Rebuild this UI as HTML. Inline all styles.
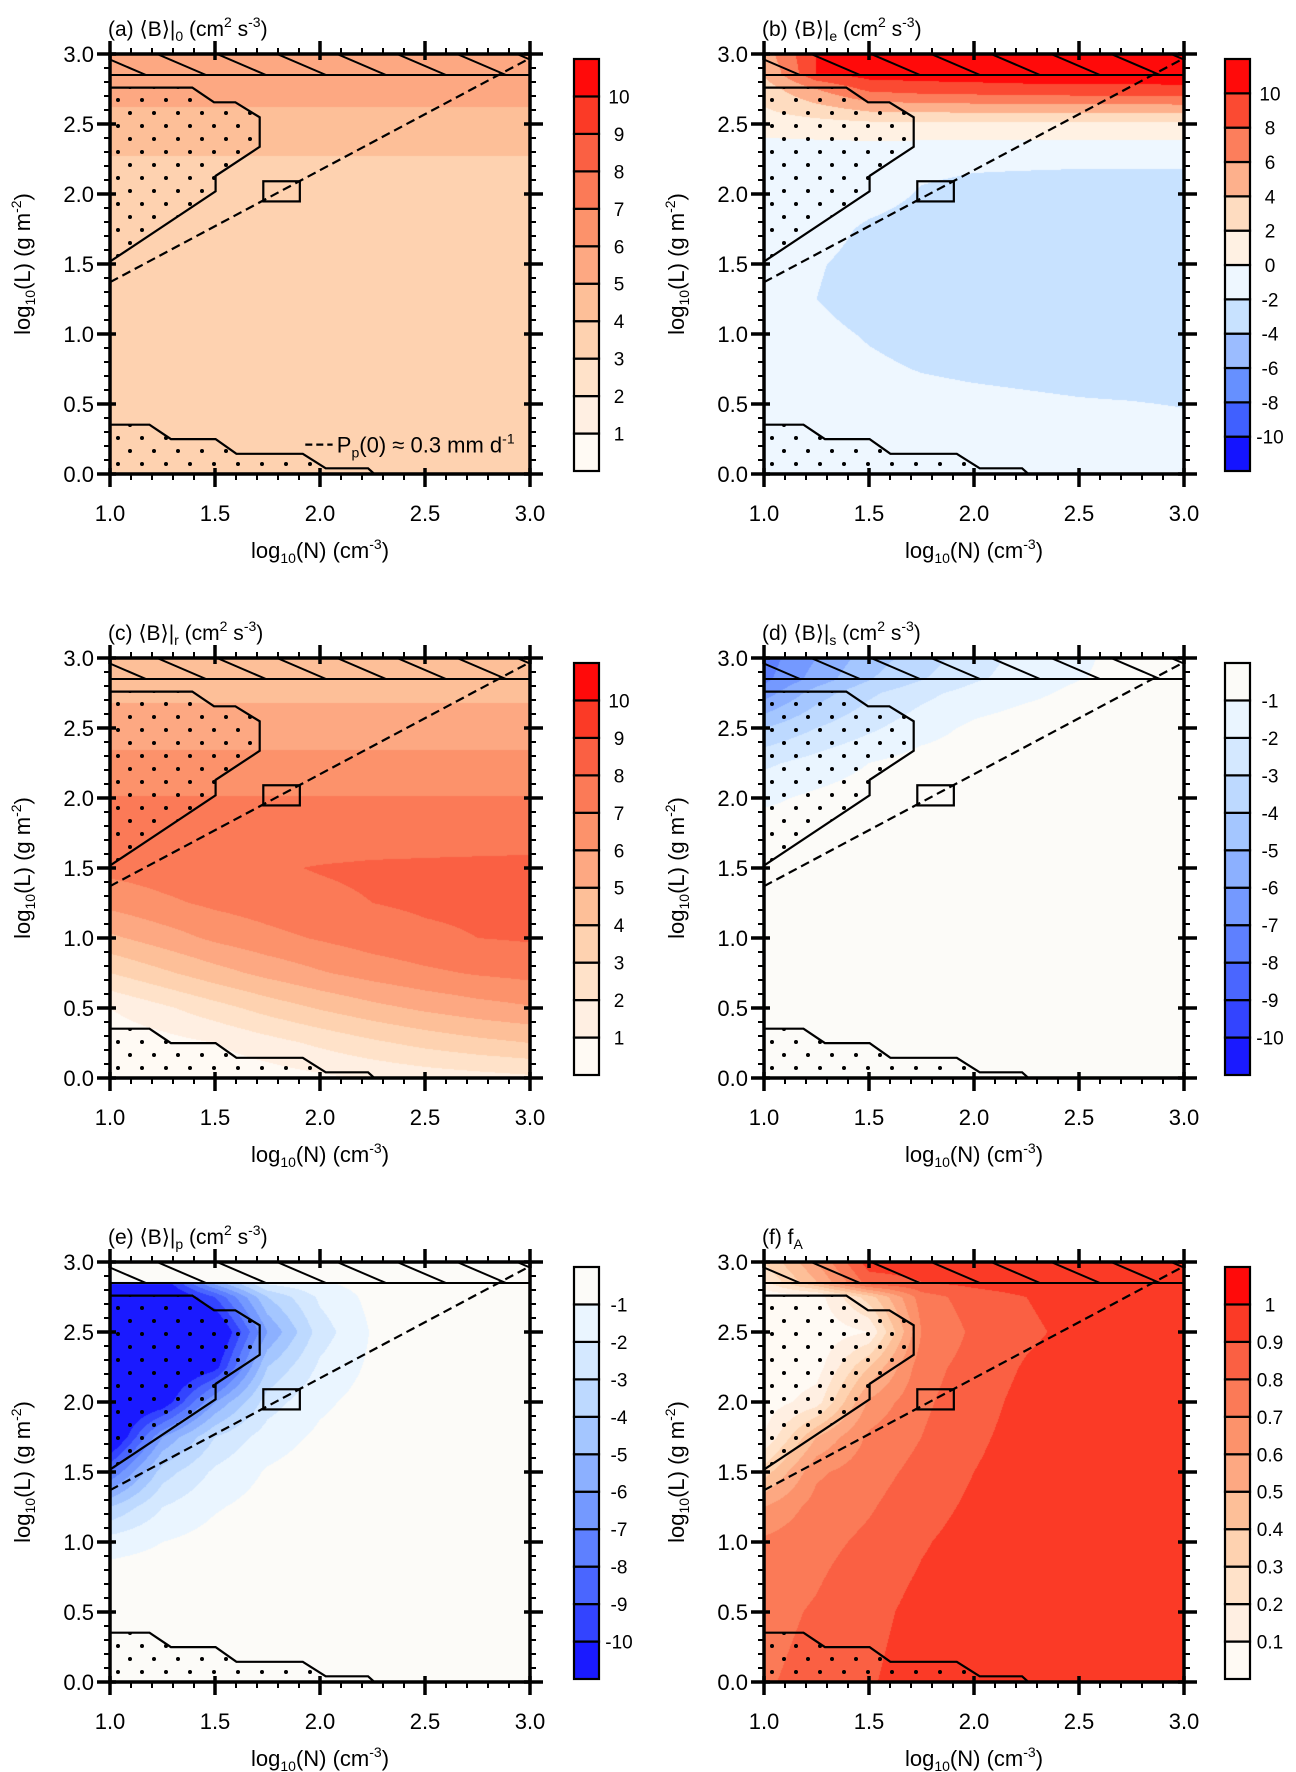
<!DOCTYPE html>
<html><head><meta charset="utf-8"><style>
html,body{margin:0;padding:0;background:#fff;}
#wrap{position:relative;width:1296px;height:1772px;overflow:hidden;}
canvas,svg{position:absolute;left:0;top:0;}
svg text{font-family:"Liberation Sans","DejaVu Sans",sans-serif;fill:#000;}
</style></head><body>
<div id="wrap">
<canvas id="cv" width="1296" height="1772"></canvas>
<svg id="sv" width="1296" height="1772" xmlns="http://www.w3.org/2000/svg"></svg>
</div>
<script>
const xNodes = [1.0,1.25,1.5,1.75,2.0,2.25,2.5,2.75,3.0];
const yNodes = [0,0.25,0.5,0.75,1.0,1.25,1.5,1.75,2.0,2.25,2.5,2.75,2.84,2.86,3.0];
const xTickLabels = ["1.0","1.5","2.0","2.5","3.0"];
const yTickLabels = ["0.0","0.5","1.0","1.5","2.0","2.5","3.0"];

const redColors = ["#fffaf4","#ffefe2","#ffe2c9","#fed2b0","#fdbf98","#fda882","#fc926b","#fb7a57","#fa6043","#fb3a26","#ff0a0a"];
const divColors = ["#1414ff","#4060ff","#6690ff","#9bbcff","#c8e2ff","#eef7ff","#fff1e3","#fedcc0","#fdb08c","#fc7e5c","#fb4a32","#ff0a0a"];
const blueColors = ["#1a1aff","#3344ff","#4a66ff","#5e80ff","#7499ff","#8cb0ff","#a4c6ff","#bdd9ff","#d4e8ff","#eaf5ff","#fcfbf8"];
const redBounds = [1,2,3,4,5,6,7,8,9,10];
const divBounds = [-10,-8,-6,-4,-2,0,2,4,6,8,10];
const blueBounds = [-10,-9,-8,-7,-6,-5,-4,-3,-2,-1];
const fBounds = [0.1,0.2,0.3,0.4,0.5,0.6,0.7,0.8,0.9,1.0];
const redLabels = ["1","2","3","4","5","6","7","8","9","10"];
const divLabels = ["-10","-8","-6","-4","-2","0","2","4","6","8","10"];
const blueLabels = ["-10","-9","-8","-7","-6","-5","-4","-3","-2","-1"];
const fLabels = ["0.1","0.2","0.3","0.4","0.5","0.6","0.7","0.8","0.9","1"];

const aValues = [
[3.5,3.5,3.5,3.5,3.5,3.5,3.5,3.5,3.5],
[3.5,3.5,3.5,3.5,3.5,3.5,3.5,3.5,3.5],
[3.5,3.5,3.5,3.5,3.5,3.5,3.5,3.5,3.5],
[3.5,3.5,3.5,3.5,3.5,3.5,3.5,3.5,3.5],
[3.5,3.5,3.5,3.5,3.5,3.5,3.5,3.5,3.5],
[3.5,3.5,3.5,3.5,3.5,3.5,3.5,3.5,3.5],
[3.5,3.5,3.5,3.5,3.5,3.5,3.5,3.5,3.5],
[3.5,3.5,3.5,3.5,3.5,3.5,3.5,3.5,3.5],
[3.5,3.5,3.5,3.5,3.5,3.5,3.5,3.5,3.5],
[3.95,3.95,3.95,3.95,3.95,3.95,3.95,3.95,3.95],
[4.6,4.6,4.6,4.6,4.6,4.6,4.6,4.6,4.6],
[5.4,5.4,5.4,5.4,5.4,5.4,5.4,5.4,5.4],
[5.5,5.5,5.5,5.5,5.5,5.5,5.5,5.5,5.5],
[5.5,5.5,5.5,5.5,5.5,5.5,5.5,5.5,5.5],
[5.6,5.6,5.6,5.6,5.6,5.6,5.6,5.6,5.6]];
const bValues = [
[-1,-1,-1,-1,-1,-1,-1,-1,-1],
[-1,-1,-1.1,-1.2,-1.3,-1.4,-1.5,-1.5,-1.6],
[-1,-1.2,-1.4,-1.6,-1.7,-1.8,-1.9,-1.95,-2.05],
[-1,-1.4,-1.8,-2.05,-2.2,-2.3,-2.4,-2.5,-2.6],
[-1,-1.7,-2.1,-2.4,-2.6,-2.6,-2.7,-2.7,-2.7],
[-1,-2.0,-2.5,-2.7,-2.8,-2.8,-2.8,-2.8,-2.8],
[-1,-1.9,-2.4,-2.7,-2.8,-2.8,-2.8,-2.8,-2.8],
[-1,-1.5,-2.2,-2.5,-2.6,-2.6,-2.6,-2.6,-2.6],
[-1,-1,-1.5,-2.1,-2.3,-2.4,-2.5,-2.5,-2.5],
[-1.5,-1.5,-1.6,-1.7,-1.8,-1.8,-1.8,-1.8,-1.8],
[1,1.2,1.5,1.5,1.5,1.5,1.5,1.5,1.5],
[3,6,8.5,9,9.2,9.4,9.5,9.5,9.6],
[4,9,10.5,10.6,10.7,10.8,10.8,10.8,10.8],
[4,10,11,11,11,11,11,11,11],
[5,10,11,11,11,11,11,11,11]];
const cValues = [
[0.1,0.2,0.3,0.5,0.8,1.1,1.4,1.6,1.8],
[0.3,0.6,1.0,1.6,2.2,2.8,3.3,3.7,4.0],
[1.0,1.8,2.6,3.4,4.1,4.7,5.2,5.6,5.9],
[3.0,3.8,4.6,5.3,5.9,6.4,6.8,7.1,7.3],
[4.8,5.5,6.2,6.7,7.1,7.5,7.8,8.0,8.1],
[6.3,6.8,7.2,7.5,7.8,8.0,8.15,8.2,8.3],
[7.3,7.5,7.7,7.9,8.05,8.15,8.2,8.25,8.3],
[7.5,7.5,7.5,7.5,7.5,7.5,7.5,7.5,7.5],
[7.05,7.05,7.05,7.05,7.05,7.05,7.05,7.05,7.05],
[6.3,6.3,6.3,6.3,6.3,6.3,6.3,6.3,6.3],
[5.5,5.5,5.5,5.5,5.5,5.5,5.5,5.5,5.5],
[4.8,4.8,4.8,4.8,4.8,4.8,4.8,4.8,4.8],
[4.7,4.7,4.7,4.7,4.7,4.7,4.7,4.7,4.7],
[4.7,4.7,4.7,4.7,4.7,4.7,4.7,4.7,4.7],
[4.7,4.7,4.7,4.7,4.7,4.7,4.7,4.7,4.7]];
const dValues = [
[-0.5,-0.5,-0.5,-0.5,-0.5,-0.5,-0.5,-0.5,-0.5],
[-0.5,-0.5,-0.5,-0.5,-0.5,-0.5,-0.5,-0.5,-0.5],
[-0.5,-0.5,-0.5,-0.5,-0.5,-0.5,-0.5,-0.5,-0.5],
[-0.5,-0.5,-0.5,-0.5,-0.5,-0.5,-0.5,-0.5,-0.5],
[-0.5,-0.5,-0.5,-0.5,-0.5,-0.5,-0.5,-0.5,-0.5],
[-0.5,-0.5,-0.5,-0.5,-0.5,-0.5,-0.5,-0.5,-0.5],
[-0.5,-0.5,-0.5,-0.5,-0.5,-0.5,-0.5,-0.5,-0.5],
[-0.5,-0.5,-0.5,-0.5,-0.5,-0.5,-0.5,-0.5,-0.5],
[-1.2,-0.8,-0.5,-0.5,-0.5,-0.5,-0.5,-0.5,-0.5],
[-2.2,-1.6,-1.0,-0.6,-0.5,-0.5,-0.5,-0.5,-0.5],
[-4,-3,-2.2,-1.4,-0.8,-0.5,-0.5,-0.5,-0.5],
[-6.5,-4.5,-3.2,-2.3,-1.6,-1.2,-0.8,-0.5,-0.4],
[-7.2,-5.5,-4,-3,-2.1,-1.4,-1,-0.7,-0.5],
[-7.3,-5.6,-4.1,-3.1,-2.2,-1.5,-1.05,-0.75,-0.5],
[-7.5,-6,-4.5,-3.5,-2.5,-1.6,-1.1,-0.8,-0.5]];
const eValues = [
[-0.5,-0.5,-0.5,-0.5,-0.5,-0.5,-0.5,-0.5,-0.5],
[-0.5,-0.5,-0.5,-0.5,-0.5,-0.5,-0.5,-0.5,-0.5],
[-0.5,-0.5,-0.5,-0.5,-0.5,-0.5,-0.5,-0.5,-0.5],
[-0.5,-0.5,-0.5,-0.5,-0.5,-0.5,-0.5,-0.5,-0.5],
[-1.5,-1,-0.6,-0.5,-0.5,-0.5,-0.5,-0.5,-0.5],
[-4,-2,-1.1,-0.6,-0.5,-0.5,-0.5,-0.5,-0.5],
[-8,-3.5,-1.8,-0.9,-0.5,-0.5,-0.5,-0.5,-0.5],
[-12,-6,-3,-1.5,-0.8,-0.5,-0.5,-0.5,-0.5],
[-12,-11,-6,-2.5,-1.2,-0.6,-0.5,-0.5,-0.5],
[-12,-12,-10.5,-4,-1.8,-0.8,-0.5,-0.5,-0.5],
[-12,-12,-12,-6,-2.5,-0.9,-0.5,-0.5,-0.5],
[-12,-12,-9,-4,-1.8,-0.7,-0.5,-0.5,-0.5],
[-12,-11,-6,-2,-1.2,-0.6,-0.5,-0.5,-0.5],
[-0.5,-0.5,-0.5,-0.5,-0.5,-0.5,-0.5,-0.5,-0.5],
[-0.5,-0.5,-0.5,-0.5,-0.5,-0.5,-0.5,-0.5,-0.5]];
const fValues = [
[0.79,0.83,0.89,0.95,0.95,0.95,0.95,0.95,0.95],
[0.78,0.82,0.88,0.94,0.95,0.95,0.95,0.95,0.95],
[0.77,0.81,0.87,0.93,0.95,0.95,0.95,0.95,0.95],
[0.75,0.79,0.85,0.91,0.95,0.95,0.95,0.95,0.95],
[0.72,0.77,0.82,0.89,0.94,0.95,0.95,0.95,0.95],
[0.6,0.74,0.79,0.86,0.92,0.95,0.95,0.95,0.95],
[0.35,0.68,0.76,0.83,0.9,0.95,0.95,0.95,0.95],
[0.1,0.5,0.72,0.8,0.88,0.94,0.95,0.95,0.95],
[0.04,0.15,0.62,0.78,0.86,0.93,0.95,0.95,0.95],
[0.03,0.05,0.4,0.76,0.84,0.91,0.95,0.95,0.95],
[0.02,0.03,0.1,0.7,0.82,0.88,0.93,0.95,0.95],
[0.02,0.05,0.35,0.75,0.85,0.9,0.95,0.95,0.95],
[0.15,0.45,0.8,0.88,0.92,0.95,0.95,0.95,0.95],
[0.2,0.5,0.85,0.9,0.93,0.95,0.95,0.95,0.95],
[0.3,0.6,0.95,0.95,0.95,0.95,0.95,0.95,0.95]];

const dotRegionTop = [[1.0,2.76],[1.392,2.76],[1.495,2.655],[1.597,2.655],[1.713,2.548],[1.713,2.337],[1.503,2.129],[1.503,2.019],[1.0,1.517]];
const dotRegionBottom = [[1.0,0.352],[1.188,0.352],[1.29,0.249],[1.503,0.249],[1.602,0.144],[1.918,0.144],[2.027,0.041],[2.229,0.041],[2.259,0.0],[1.0,0.0]];
const dashedLine = [[1.0,1.37],[3.0,2.97]];
const boxRegion = [1.73,1.947,1.904,2.091];
const hatchLevel = 2.85;

const NS="http://www.w3.org/2000/svg";
const svg=document.getElementById('sv');
const ctx=document.getElementById('cv').getContext('2d');
const W=420,H=420;
function el(tag,attrs,parent){const e=document.createElementNS(NS,tag);for(const k in attrs)e.setAttribute(k,attrs[k]);(parent||svg).appendChild(e);return e;}
function hex(c){return [parseInt(c.substr(1,2),16),parseInt(c.substr(3,2),16),parseInt(c.substr(5,2),16)];}
function interp(vals,x,y){
  let ix=0;while(ix<xNodes.length-2&&x>xNodes[ix+1])ix++;
  let iy=0;while(iy<yNodes.length-2&&y>yNodes[iy+1])iy++;
  const tx=(x-xNodes[ix])/(xNodes[ix+1]-xNodes[ix]);
  const ty=(y-yNodes[iy])/(yNodes[iy+1]-yNodes[iy]);
  const a=vals[iy][ix],b=vals[iy][ix+1],c=vals[iy+1][ix],d=vals[iy+1][ix+1];
  return (a*(1-tx)+b*tx)*(1-ty)+(c*(1-tx)+d*tx)*ty;
}
function levelIndex(v,bounds){let i=0;while(i<bounds.length&&v>=bounds[i])i++;return i;}

const panels=[
 {id:'a',x0:110,y0:54,vals:aValues,colors:redColors,bounds:redBounds,labels:redLabels,cbx:574,sub:'0',kind:'B'},
 {id:'b',x0:764,y0:54,vals:bValues,colors:divColors,bounds:divBounds,labels:divLabels,cbx:1225,sub:'e',kind:'B'},
 {id:'c',x0:110,y0:658,vals:cValues,colors:redColors,bounds:redBounds,labels:redLabels,cbx:574,sub:'r',kind:'B'},
 {id:'d',x0:764,y0:658,vals:dValues,colors:blueColors,bounds:blueBounds,labels:blueLabels,cbx:1225,sub:'s',kind:'B'},
 {id:'e',x0:110,y0:1262,vals:eValues,colors:blueColors,bounds:blueBounds,labels:blueLabels,cbx:574,sub:'p',kind:'B'},
 {id:'f',x0:764,y0:1262,vals:fValues,colors:redColors,bounds:fBounds,labels:fLabels,cbx:1225,sub:'A',kind:'f'}];

const defs=el('defs',{});

panels.forEach(p=>{
  const sx=v=>p.x0+(v-1)/2*W, sy=v=>p.y0+(3-v)/3*H;
  const img=ctx.createImageData(W,H);const rgb=p.colors.map(hex);
  for(let j=0;j<H;j++){const y=3-3*(j+0.5)/H;
    for(let i=0;i<W;i++){const x=1+2*(i+0.5)/W;
      const c=rgb[levelIndex(interp(p.vals,x,y),p.bounds)];
      const k=(j*W+i)*4;img.data[k]=c[0];img.data[k+1]=c[1];img.data[k+2]=c[2];img.data[k+3]=255;}}
  ctx.putImageData(img,p.x0,p.y0);

  const g=el('g',{});
  
  
  const cp=el('clipPath',{id:'clip'+p.id},defs);el('rect',{x:p.x0,y:p.y0,width:W,height:H},cp);
  const pat=el('pattern',{id:'dots'+p.id,patternUnits:'userSpaceOnUse',x:p.x0+2,y:p.y0+40,width:24,height:26},defs);
  el('circle',{cx:6,cy:6,r:2,fill:'#000'},pat);el('circle',{cx:18,cy:19,r:2,fill:'#000'},pat);
  const inner=el('g',{'clip-path':'url(#clip'+p.id+')'},g);
  const pts=a=>a.map(q=>sx(q[0]).toFixed(1)+','+sy(q[1]).toFixed(1)).join(' ');
  const dt=el('polygon',{points:pts(dotRegionTop),fill:'url(#dots'+p.id+')',stroke:'#000','stroke-width':2.2},inner);
  
  
  const db=el('polygon',{points:pts(dotRegionBottom),fill:'url(#dots'+p.id+')',stroke:'#000','stroke-width':2.2},inner);
  
  
  const hb=el('g',{},inner);
  
  
  el('line',{x1:p.x0,x2:p.x0+W,y1:sy(hatchLevel),y2:sy(hatchLevel),stroke:'#000','stroke-width':2},hb);
  for(let k=0;k<8;k++){const xb=p.x0+36+60*k;el('line',{x1:xb-49,y1:sy(3),x2:xb,y2:sy(hatchLevel),stroke:'#000','stroke-width':2},hb);}
  const dl=el('line',{x1:sx(dashedLine[0][0]),y1:sy(dashedLine[0][1]),x2:sx(dashedLine[1][0]),y2:sy(dashedLine[1][1]),stroke:'#000','stroke-width':2.2,'stroke-dasharray':'9,5'},inner);
  
  
  const bx=el('rect',{x:sx(boxRegion[0]),y:sy(boxRegion[3]),width:sx(boxRegion[2])-sx(boxRegion[0]),height:sy(boxRegion[1])-sy(boxRegion[3]),fill:'none',stroke:'#000','stroke-width':2.2},inner);
  
  
  el('rect',{x:p.x0,y:p.y0,width:W,height:H,fill:'none',stroke:'#000','stroke-width':3.5},g);
  for(let t=0;t<=30;t++){const v=t/10;const y=sy(v);const maj=t%5===0;
    const L=maj?13:6;
    el('line',{x1:p.x0-L,x2:p.x0+(maj?6:0),y1:y,y2:y,stroke:'#000','stroke-width':maj?3.5:2},g);
    el('line',{x1:p.x0+W-(maj?6:0),x2:p.x0+W+L,y1:y,y2:y,stroke:'#000','stroke-width':maj?3.5:2},g);}
  for(let t=0;t<=20;t++){const v=1+t/10;const x=sx(v);const maj=t%5===0;const L=maj?13:6;
    el('line',{x1:x,x2:x,y1:p.y0+H-(maj?6:0),y2:p.y0+H+L,stroke:'#000','stroke-width':maj?3.5:2},g);
    el('line',{x1:x,x2:x,y1:p.y0-L,y2:p.y0+(maj?6:0),stroke:'#000','stroke-width':maj?3.5:2},g);}
  yTickLabels.forEach((s,i)=>{const t=el('text',{x:p.x0-16,y:sy(i*0.5)+8,'font-size':22,'text-anchor':'end'},g);t.textContent=s;
    
    });
  xTickLabels.forEach((s,i)=>{const t=el('text',{x:sx(1+i*0.5),y:p.y0+H+47,'font-size':22,'text-anchor':'middle'},g);t.textContent=s;
    
    });
  const xt=el('text',{x:p.x0+W/2,y:p.y0+H+84,'font-size':22,'text-anchor':'middle'},g);
  xt.innerHTML='log<tspan font-size="14" dy="5">10</tspan><tspan dy="-5">(N) (cm</tspan><tspan font-size="14" dy="-9">-3</tspan><tspan dy="9">)</tspan>';
  
  
  const yt=el('text',{x:0,y:0,'font-size':22,'text-anchor':'middle',transform:'translate('+(p.x0-80)+','+(p.y0+H/2)+') rotate(-90)'},g);
  yt.innerHTML='log<tspan font-size="14" dy="5">10</tspan><tspan dy="-5">(L) (g m</tspan><tspan font-size="14" dy="-9">-2</tspan><tspan dy="9">)</tspan>';
  
  
  const tt=el('text',{x:p.x0-2,y:p.y0-18,'font-size':21},g);
  if(p.kind==='B') tt.innerHTML='('+p.id+') \u27E8B\u27E9|<tspan font-size="14" dy="5">'+p.sub+'</tspan><tspan dy="-5"> (cm</tspan><tspan font-size="14" dy="-9">2</tspan><tspan dy="9"> s</tspan><tspan font-size="14" dy="-9">-3</tspan><tspan dy="9">)</tspan>';
  else tt.innerHTML='(f) f<tspan font-size="14" dy="5">A</tspan>';
  
  
  const cb=el('g',{},g);
  
  
  const n=p.colors.length, top=p.y0+5, bot=p.y0+417, bh=(bot-top)/n;
  p.colors.forEach((c,i)=>{const r=el('rect',{x:p.cbx,y:bot-(i+1)*bh,width:25,height:bh,fill:c,stroke:'#000','stroke-width':2.2},cb);
    
    });
  p.labels.forEach((s,i)=>{const t=el('text',{x:p.cbx+45,y:bot-(i+1)*bh+7,'font-size':19,'text-anchor':'middle'},cb);t.textContent=s;
    
    });
  if(p.id==='a'){
    const lg=el('g',{},g);
    
    
    el('line',{x1:sx(1.93),x2:sx(2.06),y1:sy(0.21),y2:sy(0.21),stroke:'#000','stroke-width':2.2,'stroke-dasharray':'7,4'},lg);
    const lt=el('text',{x:sx(2.08),y:sy(0.21)+8,'font-size':22},lg);
    lt.innerHTML='P<tspan font-size="14" dy="5">p</tspan><tspan dy="-5">(0) \u2248 0.3 mm d</tspan><tspan font-size="14" dy="-9">-1</tspan>';
  }
});
</script>
</body></html>
